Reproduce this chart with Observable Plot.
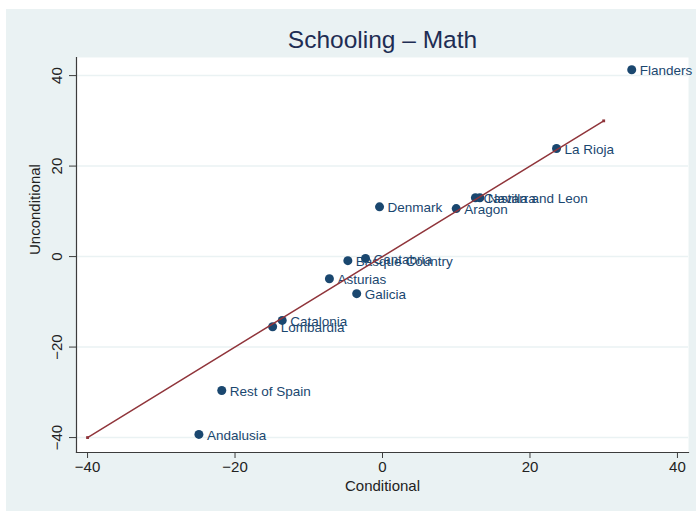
<!DOCTYPE html>
<html>
<head>
<meta charset="utf-8">
<script src="https://cdn.jsdelivr.net/npm/d3@7"></script>
<script src="https://cdn.jsdelivr.net/npm/@observablehq/plot@0.6"></script>
<style>
  html, body { margin: 0; padding: 0; background: white; }
  #wrap { position: relative; width: 696px; height: 513px; overflow: hidden; }
  #bg { position: absolute; left: 6px; top: 9px; width: 690px; height: 502px; background: #eaf2f3; }
  #chart { position: absolute; left: 0; top: 0; }
</style>
</head>
<body>
<div id="wrap"><div id="bg"></div><div id="chart"></div></div>
<script>
// Regional schooling effects in math: conditional vs unconditional estimates
const regions = [
  "Flanders", "La Rioja", "Castilla and Leon", "Navarra", "Denmark", "Aragon",
  "Cantabria", "Basque Country", "Asturias", "Galicia", "Catalonia", "Lombardia",
  "Rest of Spain", "Andalusia"
];
const conditional = [33.8, 23.6, 12.6, 13.2, -0.4, 10.0, -2.3, -4.7, -7.2, -3.5, -13.6, -14.9, -21.8, -24.9];
const unconditional = [41.3, 23.9, 13.0, 13.0, 11.0, 10.6, -0.4, -0.9, -4.9, -8.2, -14.1, -15.5, -29.6, -39.3];

// 45-degree reference line
const lineX = [-40, 30];
const lineY = [-40, 30];

const ticks = [-40, -20, 0, 20, 40];
const fmt = d => d < 0 ? "\u2212" + Math.abs(d) : String(d);

const points = regions.map((name, i) => ({name, x: conditional[i], y: unconditional[i]}));
const ref = lineX.map((x, i) => ({x, y: lineY[i]}));

const navy = "#1a476f";
const maroon = "#90353b";
const axisColor = "#3c3c3c";

const chart = Plot.plot({
  width: 696,
  height: 513,
  marginLeft: 76,
  marginRight: 8,
  marginTop: 57,
  marginBottom: 61,
  style: {background: "transparent", fontFamily: "Liberation Sans, Arial, sans-serif"},
  x: {domain: [-41.5, 41.5]},
  y: {domain: [-43.3, 44]},
  marks: [
    Plot.frame({fill: "white", stroke: null}),
    Plot.gridY(ticks, {stroke: "#eaf2f3", strokeOpacity: 1, strokeWidth: 1.5}),
    Plot.frame({anchor: "bottom", stroke: axisColor, strokeWidth: 1.2}),
    Plot.frame({anchor: "left", stroke: axisColor, strokeWidth: 1.2}),
    Plot.axisX({ticks, tickSize: 6, tickPadding: 3, fontSize: 15, label: null,
      tickFormat: fmt, stroke: axisColor, fill: "#222"}),
    Plot.axisY({ticks, tickSize: 7, tickPadding: 8, fontSize: 15, label: null,
      tickFormat: fmt, tickRotate: -90, stroke: axisColor, fill: "#222"}),
    Plot.dot(points, {x: "x", y: "y", r: 4.5, fill: navy, stroke: null}),
    Plot.text(points, {x: "x", y: "y", text: "name", textAnchor: "start", dx: 8, dy: 1,
      fontSize: 13.5, fill: navy}),
    Plot.line(ref, {x: "x", y: "y", stroke: maroon, strokeWidth: 1.5}),
    Plot.dot(ref, {x: "x", y: "y", symbol: "square", r: 1.6, fill: maroon, stroke: null}),
    Plot.text(["Schooling \u2013 Math"], {frameAnchor: "top", lineAnchor: "middle", dy: -17,
      fontSize: 24.5, fill: "#1e2d53"}),
    Plot.text(["Conditional"], {frameAnchor: "bottom", lineAnchor: "middle", dy: 34,
      fontSize: 15, fill: "#222"}),
    Plot.text(["Unconditional"], {frameAnchor: "left", dx: -41, rotate: -90, fontSize: 15, fill: "#222"})
  ]
});
document.getElementById("chart").appendChild(chart);
</script>
</body>
</html>
